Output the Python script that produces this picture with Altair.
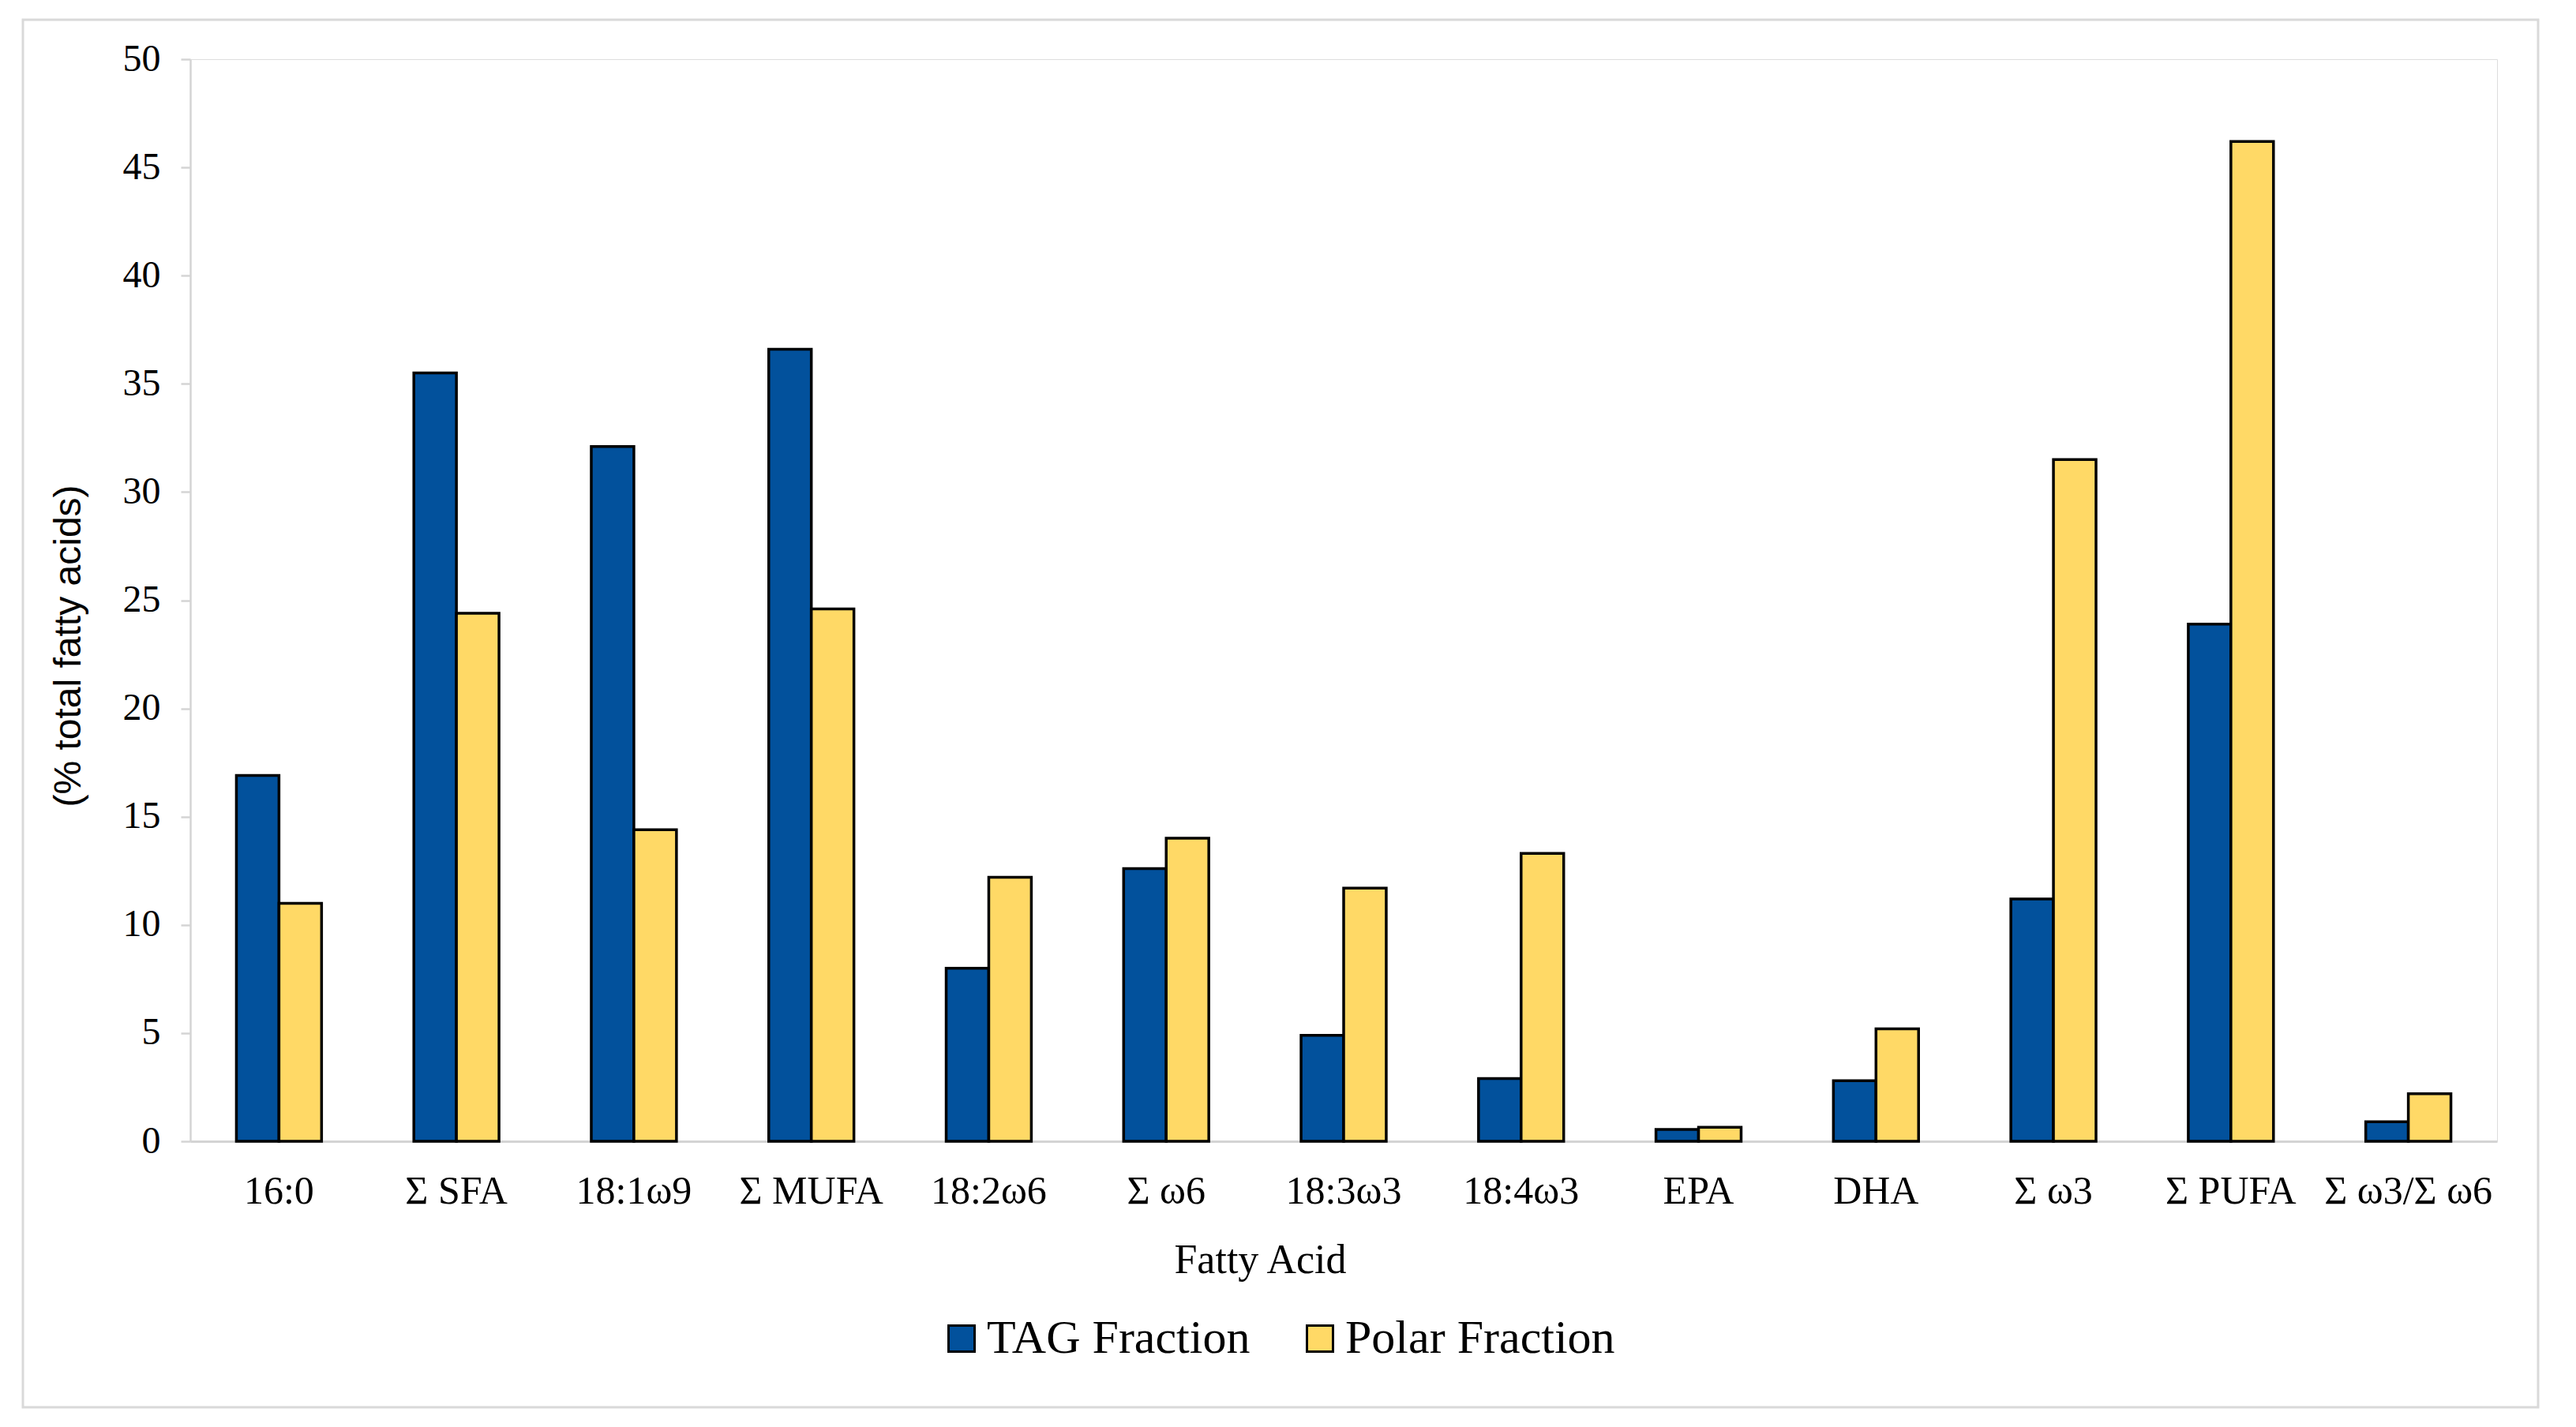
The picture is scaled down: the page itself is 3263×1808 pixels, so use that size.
import altair as alt
import pandas as pd

categories = ["16:0", "Σ SFA", "18:1ω9", "Σ MUFA", "18:2ω6", "Σ ω6", "18:3ω3",
              "18:4ω3", "EPA", "DHA", "Σ ω3", "Σ PUFA", "Σ ω3/Σ ω6"]
tag_values = [16.9, 35.5, 32.1, 36.6, 8.0, 12.6, 4.9, 2.9, 0.55, 2.8, 11.2, 23.9, 0.9]
polar_values = [11.0, 24.4, 14.4, 24.6, 12.2, 14.0, 11.7, 13.3, 0.65, 5.2, 31.5, 46.2, 2.2]
series = ["TAG Fraction", "Polar Fraction"]
colors = ["#02519C", "#FFD966"]
y_ticks = [0, 5, 10, 15, 20, 25, 30, 35, 40, 45, 50]

rows = []
for c, t, p in zip(categories, tag_values, polar_values):
    rows.append({"acid": c, "series": series[0], "value": t})
    rows.append({"acid": c, "series": series[1], "value": p})
df = pd.DataFrame(rows)

W, H = 2922, 1371

bars = alt.Chart(df).mark_bar(stroke="black", strokeWidth=3.5).encode(
    x=alt.X("acid:N", sort=categories,
            scale=alt.Scale(paddingInner=0.52, paddingOuter=0.26),
            axis=alt.Axis(title="Fatty Acid", labelAngle=0, ticks=False,
                          labelPadding=38, labelFontSize=50, labelLimit=0,
                          labelFont="Liberation Serif", labelColor="black",
                          titleFont="Liberation Serif", titleFontSize=52,
                          titleFontWeight="normal", titleColor="black",
                          titleX=1355, titleAlign="center",
                          titleY=150, titleBaseline="middle",
                          domainColor="#D4D4D4", domainWidth=3)),
    xOffset=alt.XOffset("series:N", sort=series,
                        scale=alt.Scale(paddingInner=0, paddingOuter=0)),
    y=alt.Y("value:Q", scale=alt.Scale(domain=[0, 50], nice=False),
            axis=alt.Axis(values=y_ticks, grid=False, title="(% total fatty acids)",
                          tickColor="#D4D4D4", tickSize=12, tickWidth=2.5,
                          domainColor="#D4D4D4", domainWidth=2.5,
                          labelPadding=26, labelFontSize=48,
                          labelFont="Liberation Serif", labelColor="black",
                          titleFont="Liberation Sans", titleFontSize=48,
                          titleFontWeight="normal", titleColor="black",
                          titleX=-154, titleY=743, titleAngle=270,
                          titleBaseline="middle", titleAlign="center")),
    color=alt.Color("series:N", sort=series,
                    scale=alt.Scale(domain=series, range=colors),
                    legend=alt.Legend(title=None, orient="none", legendX=947, legendY=1591,
                                      direction="horizontal", symbolType="square",
                                      symbolSize=1089, symbolStrokeColor="black",
                                      symbolStrokeWidth=3, labelFont="Liberation Serif",
                                      labelFontSize=60, labelColor="black", labelLimit=0,
                                      labelOffset=2, columnPadding=58, padding=0)),
)

frame = alt.Chart(pd.DataFrame({"a": [0]})).mark_rect(
    fill=None, stroke="#D9D9D9", strokeWidth=3, clip=False
).encode(
    x=alt.value(-212), x2=alt.value(2974), y=alt.value(-50), y2=alt.value(1708)
)

chart = alt.layer(frame, bars).properties(
    width=W, height=H,
    autosize=alt.AutoSizeParams(type="none"),
    padding={"left": 233, "top": 67, "right": 80, "bottom": 340},
).configure_view(stroke=None).configure(background="white").configure_legend(
    labelFont="Liberation Serif", labelFontSize=60, labelLimit=0
)

chart.save("out.html", embed_options={"renderer": "svg", "actions": False})
